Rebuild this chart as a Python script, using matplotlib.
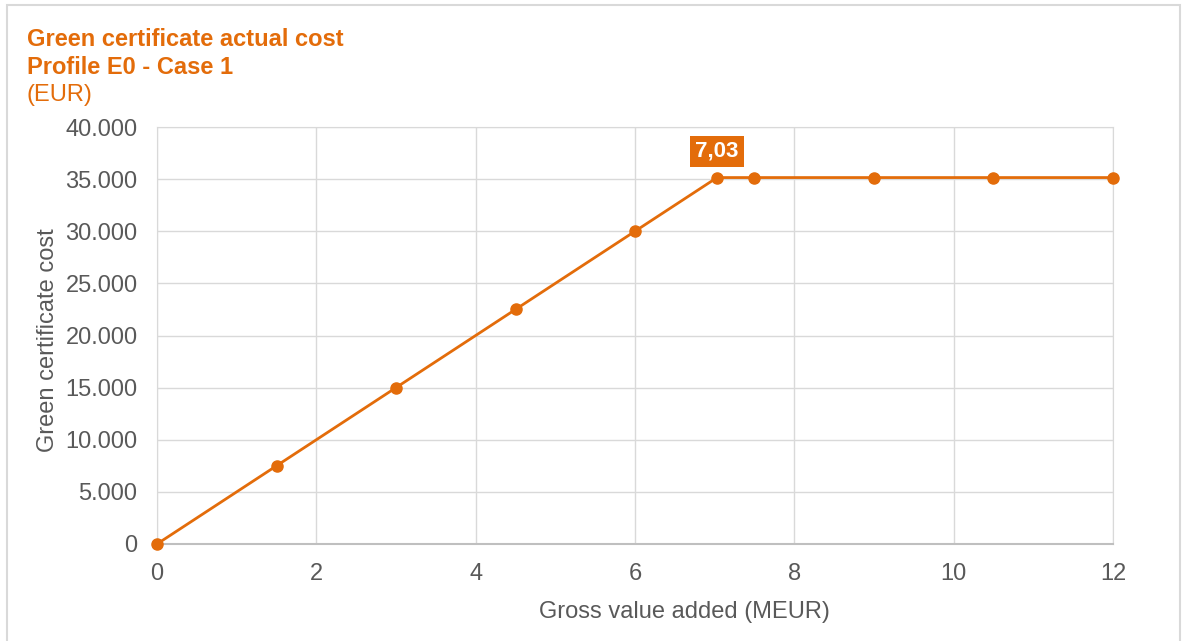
import matplotlib.pyplot as plt
from matplotlib.ticker import FuncFormatter
from matplotlib.patches import Rectangle

plt.rcParams['font.family'] = ['Liberation Sans', 'DejaVu Sans']

# data
gva = [0, 1.5, 3, 4.5, 6, 7.03, 7.5, 9, 10.5, 12]
cost = [0, 7500, 15000, 22500, 30000, 35150, 35150, 35150, 35150, 35150]
peak_label = "7,03"
peak_idx = 5

orange = "#E36C0A"
grey_text = "#595959"

fig = plt.figure(figsize=(11.88, 6.41), dpi=100)
ax = fig.add_axes([157 / 1188, 1 - 544 / 641, (1113 - 157) / 1188, (544 - 127) / 641])

# outer chart border
fig.patches.append(Rectangle((7 / 1188, -0.01), (1180 - 7) / 1188, 1 - 5 / 641 + 0.01,
                             transform=fig.transFigure, fill=False, edgecolor="#D9D9D9", lw=1.5))

ax.plot(gva, cost, color=orange, lw=2, marker="o", ms=8, zorder=3, clip_on=False)

ax.set_xlim(0, 12)
ax.set_ylim(0, 40000)
ax.set_xticks(range(0, 13, 2))
ax.set_yticks(range(0, 40001, 5000))
ax.yaxis.set_major_formatter(FuncFormatter(lambda v, p: f"{int(v):,}".replace(",", ".")))
ax.grid(True, color="#D9D9D9", lw=1)
ax.set_axisbelow(True)
for s in ["top", "right", "left"]:
    ax.spines[s].set_color("#D9D9D9")
ax.spines["bottom"].set_color("#BFBFBF")
ax.spines["bottom"].set_linewidth(1.5)
ax.tick_params(length=0, labelsize=17, colors=grey_text)
ax.tick_params(axis="y", pad=14)
ax.tick_params(axis="x", pad=14)

ax.set_xlabel("Gross value added (MEUR)", fontsize=17, color=grey_text, va="center")
ax.xaxis.set_label_coords(0.552, -0.163)
ax.set_ylabel("Green certificate cost", fontsize=17, color=grey_text, va="center")
ax.yaxis.set_label_coords(-0.114, 0.488)

ax.annotate(peak_label, (gva[peak_idx], cost[peak_idx]), xytext=(0, 19), textcoords="offset points",
            ha="center", va="center", fontsize=16, fontweight="bold", color="white",
            bbox=dict(boxstyle="square,pad=0.22", fc=orange, ec="none"))

fig.text(27 / 1188, 1 - 40 / 641, "Green certificate actual cost", fontsize=17, fontweight="bold",
         color=orange, va="center")
fig.text(27 / 1188, 1 - 67 / 641, "Profile E0 - Case 1", fontsize=17, fontweight="bold",
         color=orange, va="center")
fig.text(27 / 1188, 1 - 95 / 641, "(EUR)", fontsize=17, color=orange, va="center")

fig.savefig("out.png", dpi=100)
